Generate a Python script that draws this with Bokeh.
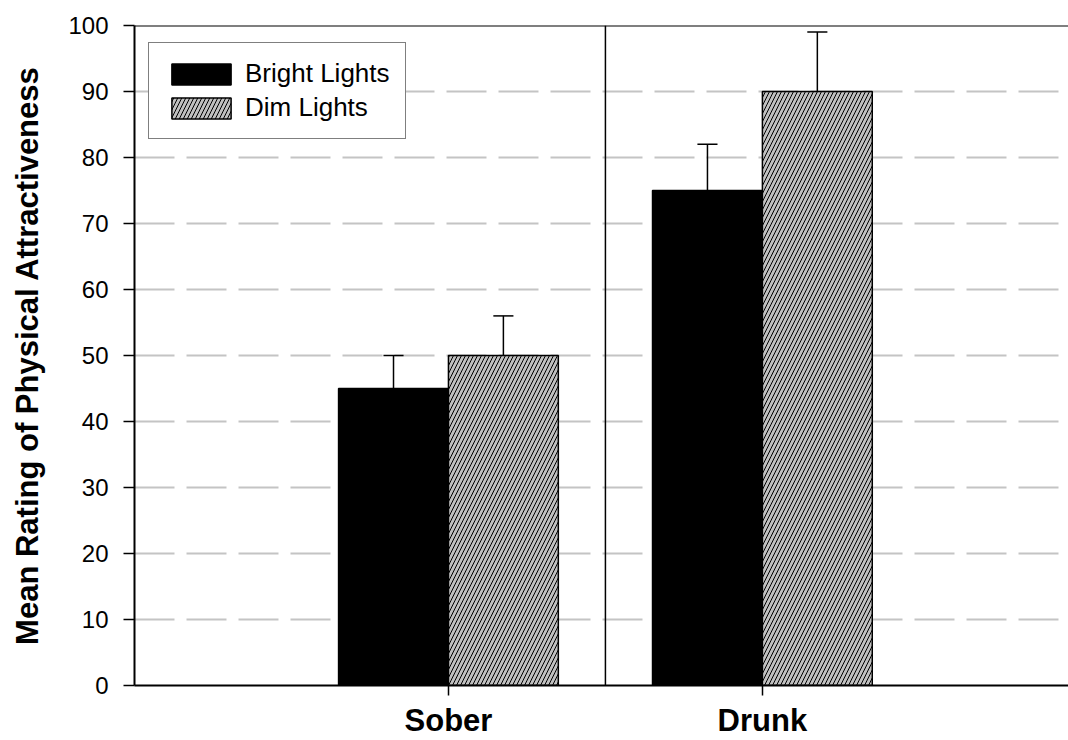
from bokeh.plotting import figure
from bokeh.models import Span, Legend, LegendItem, FixedTicker, ColumnDataSource
from bokeh.embed import file_html
from bokeh.resources import INLINE

# ---- data ----
categories = ["Sober", "Drunk"]
bright_means = [45, 75]
bright_err = [5, 7]
dim_means = [50, 90]
dim_err = [6, 9]
y_ticks = [0, 10, 20, 30, 40, 50, 60, 70, 80, 90, 100]

FONT = "Liberation Sans"
cat_pos = [i + 1 for i in range(len(categories))]
off = 0.175
bw = 0.35
capw = 0.064

p = figure(width=1068, height=740, x_range=(0, 2.975), y_range=(0, 100),
           output_backend="svg", toolbar_location=None,
           min_border_left=134, min_border_top=25, min_border_bottom=53,
           min_border_right=0)
p.outline_line_color = None
p.background_fill_color = "white"
p.border_fill_color = "white"

# grid
p.xgrid.grid_line_color = None
p.ygrid.grid_line_color = "#c4c4c4"
p.ygrid.grid_line_width = 2
p.ygrid.grid_line_dash = "40 12"
p.ygrid.ticker = FixedTicker(ticks=y_ticks)

# bars
bx = [c - off for c in cat_pos]
dx = [c + off for c in cat_pos]
src_b = ColumnDataSource(dict(x=bx, top=bright_means,
                              up=[m + e for m, e in zip(bright_means, bright_err)]))
src_d = ColumnDataSource(dict(x=dx, top=dim_means,
                              up=[m + e for m, e in zip(dim_means, dim_err)]))

rb = p.vbar(x="x", top="top", bottom=0, width=bw, source=src_b,
            fill_color="black", line_color="black", line_width=1.5)
rd = p.vbar(x="x", top="top", bottom=0, width=bw, source=src_d,
            fill_color="#c0c0c0", line_color="black", line_width=1.5,
            hatch_pattern="/", hatch_color="black", hatch_scale=8, hatch_weight=1.0)

# error bars (upper only)
for src in (src_b, src_d):
    p.segment(x0="x", y0="top", x1="x", y1="up", source=src, line_color="black", line_width=1.5)
    d = src.data
    p.segment(x0=[x - capw / 2 for x in d["x"]], y0=d["up"],
              x1=[x + capw / 2 for x in d["x"]], y1=d["up"],
              line_color="black", line_width=1.5)

# divider and top line
p.add_layout(Span(location=1.5, dimension="height", line_color="black", line_width=1.5))
p.add_layout(Span(location=100, dimension="width", line_color="black", line_width=2))

# axes
p.xaxis.ticker = FixedTicker(ticks=cat_pos)
p.xaxis.major_label_overrides = {c: n for c, n in zip(cat_pos, categories)}
p.xaxis.minor_tick_line_color = None
p.xaxis.major_tick_in = 0
p.xaxis.major_tick_out = 10
p.xaxis.major_tick_line_width = 1.5
p.xaxis.axis_line_width = 2
p.xaxis.major_label_standoff = 7
p.xaxis.major_label_text_font = FONT
p.xaxis.major_label_text_font_style = "bold"
p.xaxis.major_label_text_font_size = "31px"
p.xaxis.major_label_text_color = "black"

p.yaxis.ticker = FixedTicker(ticks=y_ticks)
p.yaxis.minor_tick_line_color = None
p.yaxis.major_tick_in = 0
p.yaxis.major_tick_out = 11
p.yaxis.major_tick_line_width = 1.5
p.yaxis.axis_line_width = 2
p.yaxis.major_label_standoff = 15
p.yaxis.major_label_text_font = FONT
p.yaxis.major_label_text_font_size = "24px"
p.yaxis.major_label_text_color = "black"
p.yaxis.axis_label = "Mean Rating of Physical Attractiveness"
p.yaxis.axis_label_text_font = FONT
p.yaxis.axis_label_text_font_style = "bold"
p.yaxis.axis_label_text_font_size = "31px"
p.yaxis.axis_label_text_color = "black"
p.yaxis.axis_label_standoff = 20

# legend
legend = Legend(items=[LegendItem(label="Bright Lights", renderers=[rb]),
                       LegendItem(label="Dim Lights", renderers=[rd])],
                location=(14, 546), margin=0, padding=15, spacing=3,
                glyph_width=74, glyph_height=26, label_height=26, label_standoff=7,
                label_text_font=FONT, label_text_font_size="26px",
                label_text_color="black",
                border_line_color="black", border_line_width=1.5,
                background_fill_alpha=1.0)
p.add_layout(legend)

open("out.html", "w").write(file_html(p, INLINE))
